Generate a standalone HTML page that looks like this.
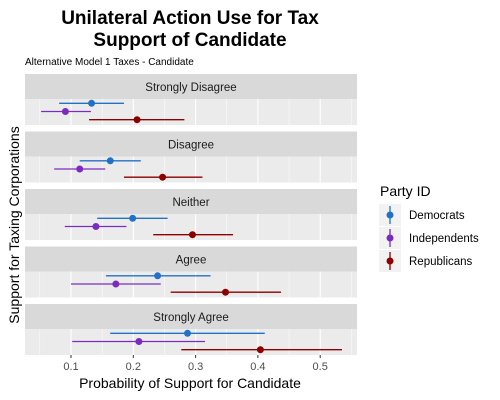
<!DOCTYPE html>
<html><head><meta charset="utf-8"><style>
body{margin:0;background:#fff;}
svg{display:block;font-family:"Liberation Sans",Arial,sans-serif;}
</style></head><body>
<svg id="chart" width="500" height="400">
<text x="190" y="24" text-anchor="middle" font-size="19" font-weight="bold" fill="#000">Unilateral Action Use for Tax</text>
<text x="190" y="46" text-anchor="middle" font-size="19" font-weight="bold" fill="#000">Support of Candidate</text>
<text x="25" y="65" font-size="10" fill="#000">Alternative Model 1 Taxes - Candidate</text>
<text transform="translate(19,225) rotate(-90)" text-anchor="middle" font-size="14" fill="#000">Support for Taxing Corporations</text>
<text x="190" y="388" text-anchor="middle" font-size="14" fill="#000">Probability of Support for Candidate</text>
<g id="panels"></g>
<g id="xticks"></g>
<g id="legend">
<text x="380" y="196" font-size="14" fill="#000">Party ID</text>
</g>
</svg>
<script>
const panelsNames = ["Strongly Disagree","Disagree","Neither","Agree","Strongly Agree"];
const groups = ["Democrats","Independents","Republicans"];
const demEst = [0.133,0.163,0.199,0.239,0.287];
const demLo  = [0.081,0.114,0.142,0.156,0.163];
const demHi  = [0.185,0.212,0.255,0.324,0.411];
const indEst = [0.091,0.114,0.140,0.172,0.209];
const indLo  = [0.052,0.073,0.090,0.100,0.102];
const indHi  = [0.132,0.155,0.189,0.244,0.315];
const repEst = [0.206,0.247,0.295,0.348,0.404];
const repLo  = [0.129,0.185,0.232,0.260,0.277];
const repHi  = [0.282,0.311,0.360,0.437,0.535];
const xTicks = [0.1,0.2,0.3,0.4,0.5];
const colors = ["#2171c7","#7b2cc0","#8b0000"];
const NS="http://www.w3.org/2000/svg";
const X0=25,X1=357;
function xs(v){return 71+(v-0.1)*623;}
function mk(tag,attrs,parent){const e=document.createElementNS(NS,tag);for(const k in attrs)e.setAttribute(k,attrs[k]);parent.appendChild(e);return e;}
const P=document.getElementById('panels');
const series=[[demEst,demLo,demHi],[indEst,indLo,indHi],[repEst,repLo,repHi]];
panelsNames.forEach((nm,i)=>{
  const top=74+i*57.5;
  const g=mk('g',{},P);
  
  
  const s=mk('rect',{x:X0,y:top,width:X1-X0,height:25,fill:'#d9d9d9'},g);
  
  
  const t=mk('text',{x:(X0+X1)/2,y:top+17,'text-anchor':'middle','font-size':'11.5',fill:'#1a1a1a'},g);
  t.textContent=nm;
  
  
  const pt=top+25;
  const bg=mk('rect',{x:X0,y:pt,width:X1-X0,height:26,fill:'#ebebeb'},g);
  
  
  for(let v=0.05;v<=0.56;v+=0.05){
    const major=Math.abs(Math.round(v*10)-v*10)<1e-6;
    const gl=mk('line',{x1:xs(v),x2:xs(v),y1:pt,y2:pt+26,stroke:'#fff','stroke-width':major?1.1:0.5},g);
    
    
  }
  series.forEach((sr,j)=>{
    const y=pt+4.3+j*8.2;
    const l=mk('line',{x1:xs(sr[1][i]),x2:xs(sr[2][i]),y1:y,y2:y,stroke:colors[j],'stroke-width':1.3},g);
    
    
    const c=mk('circle',{cx:xs(sr[0][i]),cy:y,r:3.5,fill:colors[j]},g);
    
    
  });
});
const XT=document.getElementById('xticks');
xTicks.forEach(v=>{
  const tk=mk('line',{x1:xs(v),x2:xs(v),y1:355,y2:358,stroke:'#333'},XT);
  
  
  const t=mk('text',{x:xs(v),y:370,'text-anchor':'middle','font-size':'11',fill:'#4d4d4d'},XT);
  t.textContent=v;
  
  
});
const L=document.getElementById('legend');
groups.forEach((gname,j)=>{
  const y=215+j*23;
  const g=mk('g',{},L);
  
  
  mk('rect',{x:379,y:y-11,width:22,height:22,fill:'#f2f2f2'},g);
  mk('line',{x1:390,x2:390,y1:y-9,y2:y+9,stroke:colors[j],'stroke-width':1.3},g);
  mk('circle',{cx:390,cy:y,r:3.5,fill:colors[j]},g);
  const t=mk('text',{x:409,y:y+4,'font-size':'11.5',fill:'#000'},g);
  t.textContent=gname;
});
</script>
</body></html>
